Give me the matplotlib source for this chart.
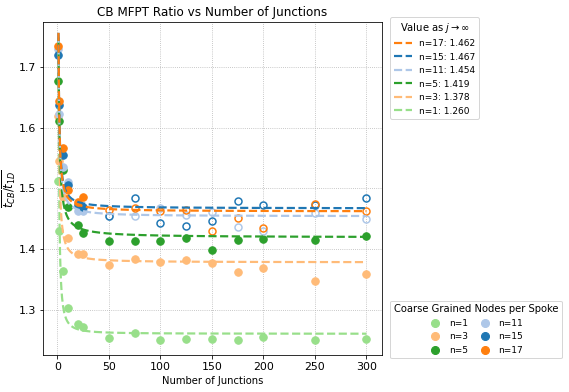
import numpy as np
import matplotlib
matplotlib.use('Agg')
import matplotlib.pyplot as plt
from matplotlib.lines import Line2D

# number of junctions simulated
junctions = [1, 2, 5, 10, 20, 25, 50, 75, 100, 125, 150, 175, 200, 250, 300]

# MFPT ratio CB / 1D for each coarse grained node count
n_values = [1, 3, 5, 11, 15, 17]
ratio_n1 = [1.512, 1.429, 1.363, 1.303, 1.276, 1.272, 1.253, 1.261, 1.250, 1.251, 1.251, 1.250, 1.254, 1.250, 1.252]
ratio_n3 = [1.620, 1.545, 1.486, 1.419, 1.392, 1.391, 1.374, 1.383, 1.378, 1.382, 1.377, 1.362, 1.369, 1.347, 1.359]
ratio_n5 = [1.678, 1.612, 1.530, 1.470, 1.440, 1.426, 1.413, 1.413, 1.414, 1.419, 1.399, 1.415, 1.417, 1.415, 1.421]
ratio_n11 = [1.730, 1.623, 1.536, 1.510, 1.462, 1.463, 1.455, 1.455, 1.468, 1.456, 1.461, 1.436, 1.429, 1.459, 1.449]
ratio_n15 = [1.720, 1.638, 1.556, 1.505, 1.473, 1.470, 1.454, 1.485, 1.443, 1.438, 1.447, 1.479, 1.473, 1.472, 1.485]
ratio_n17 = [1.735, 1.645, 1.567, 1.497, 1.478, 1.486, 1.464, 1.467, 1.463, 1.464, 1.430, 1.452, 1.434, 1.474, 1.463]
ratios = [ratio_n1, ratio_n3, ratio_n5, ratio_n11, ratio_n15, ratio_n17]

# fit y = a + b / j^c, a is the value as j -> inf
asymptote = [1.260, 1.378, 1.419, 1.454, 1.467, 1.462]
fit_b = [0.49, 0.37, 0.33, 0.30, 0.29, 0.295]
fit_c = [1.4, 1.2, 1.0, 1.1, 1.1, 1.1]

colors = ['#98df8a', '#ffbb78', '#2ca02c', '#aec7e8', '#1f77b4', '#ff7f0e']

dpi = 72
fig = plt.figure(figsize=(569 / dpi, 392 / dpi), dpi=dpi)
ax = fig.add_axes([0.0756, 0.0944, 0.5955, 0.8496])

jj = np.linspace(1, 300, 600)
x = np.array(junctions)
line_handles = []
for n, y, a, b, c, col in zip(n_values, ratios, asymptote, fit_b, fit_c, colors):
    y = np.array(y)
    if n >= 11:
        # larger node counts: long chains shown as open circles
        solid = x < 50
        ax.plot(x[solid], y[solid], 'o', color=col, ms=7.5, zorder=3)
        ax.plot(x[~solid], y[~solid], 'o', mfc='none', mec=col, mew=1.5, ms=7, zorder=3)
    else:
        ax.plot(x, y, 'o', color=col, ms=7.5, zorder=3)
    h, = ax.plot(jj, a + b / jj**c, '--', color=col, lw=2.2, zorder=4,
                 label=f'n={n}: {a:.3f}')
    line_handles.append(h)

ax.set_xlim(-14, 315)
ax.set_ylim(1.225, 1.775)
ax.set_xticks([0, 50, 100, 150, 200, 250, 300])
ax.set_yticks([1.3, 1.4, 1.5, 1.6, 1.7])
ax.tick_params(labelsize=11)
ax.grid(True, linestyle=':', color='#b0b0b0')
ax.set_axisbelow(True)
ax.set_title('CB MFPT Ratio vs Number of Junctions')
ax.set_xlabel('Number of Junctions')
ax.set_ylabel(r'$\overline{t_{CB}}/\overline{t_{1D}}$', fontsize=11.5, labelpad=1)

leg1 = ax.legend(handles=line_handles[::-1], title=r'Value as $j \to \infty$',
                 loc='upper left', bbox_to_anchor=(1.025, 1.015), borderaxespad=0,
                 fontsize=9, title_fontsize=10)
ax.add_artist(leg1)

marker_handles = [Line2D([], [], marker='o', ls='none', color=col, ms=8, label=f'n={n}')
                  for n, col in zip(n_values, colors)]
ax.legend(handles=marker_handles, title='Coarse Grained Nodes per Spoke', ncol=2,
          loc='lower left', bbox_to_anchor=(1.025, -0.01), borderaxespad=0,
          fontsize=9, title_fontsize=10, handlelength=1.4, columnspacing=1.2)

fig.savefig('out.png', dpi=dpi)
